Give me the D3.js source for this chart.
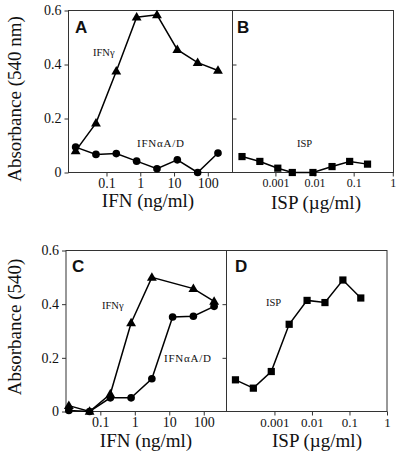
<!DOCTYPE html>
<html><head><meta charset="utf-8">
<script src="https://cdn.jsdelivr.net/npm/d3@7"></script>
<style>
html,body{margin:0;padding:0;background:#fff;}
svg{display:block;}
</style></head>
<body>
<script>
// ---- data ----
const ifnConc = [0.0122, 0.0488, 0.195, 0.781, 3.125, 12.5, 50, 200];
const aGamma = [0.08, 0.183, 0.375, 0.575, 0.584, 0.455, 0.407, 0.378];
const aAlpha = [0.094, 0.067, 0.07, 0.042, 0.014, 0.047, 0.0, 0.072];
const bConc = [0.00014, 0.0004, 0.00115, 0.0027, 0.0091, 0.028, 0.079, 0.226];
const bIsp = [0.059, 0.041, 0.016, 0.0, 0.0, 0.022, 0.041, 0.031];
const cGammaConc = [0.0122, 0.0488, 0.195, 0.781, 3.125, 50, 200];
const cGamma = [0.022, 0.0, 0.065, 0.33, 0.50, 0.458, 0.41];
const cAlpha = [0.004, 0.0, 0.051, 0.051, 0.122, 0.352, 0.355, 0.392];
const dConc = [0.0000914, 0.000274, 0.000823, 0.00247, 0.00741, 0.0222, 0.0667, 0.2];
const dIsp = [0.118, 0.087, 0.149, 0.325, 0.414, 0.406, 0.49, 0.423];
const yTicks = [0, 0.2, 0.4, 0.6];
const ifnTicks = [0.1, 1, 10, 100];
const ifnTickLabels = ["0.1", "1", "10", "100"];
const ispTicks = [0.001, 0.01, 0.1, 1];
const ispTickLabels = ["0.001", "0.01", "0.1", "1"];

const SERIF = "'Liberation Serif', 'Times New Roman', Times, serif";
const SANS = "'Liberation Sans', Arial, Helvetica, sans-serif";
const W = 400, H = 457;
const svg = d3.select("body").append("svg").attr("width", W).attr("height", H);

function panel(o) {
  const x = d3.scaleLog().domain(o.xdom).range([o.x0, o.x1]);
  const y = d3.scaleLinear().domain([0, 0.6]).range([o.y1, o.y0]);
  const g = svg.append("g");
  g.append("rect").attr("x", o.x0).attr("y", o.y0).attr("width", o.x1 - o.x0).attr("height", o.y1 - o.y0)
    .attr("fill", "none").attr("stroke", "#333").attr("stroke-width", 1);
  const xa = g.append("g").attr("transform", `translate(0,${o.y1})`)
    .call(d3.axisBottom(x).tickValues(o.xticks).tickFormat((d, i) => o.xlabels[i]).tickSize(4).tickPadding(2));
  xa.select(".domain").remove();
  xa.attr("font-family", null).attr("font-size", null);
  xa.selectAll("line").attr("stroke", "#333");
  xa.selectAll("text").style("font-family", SERIF).style("font-size", o.tickFs + "px").attr("fill", "#111");
  if (o.yLabels) {
    const ya = g.append("g").attr("transform", `translate(${o.x0},0)`)
      .call(d3.axisLeft(y).tickValues(yTicks).tickFormat(d => d === 0 ? "0" : d3.format(".1f")(d)).tickSize(4).tickPadding(3));
    ya.select(".domain").remove();
    ya.attr("font-family", null).attr("font-size", null);
    ya.selectAll("line").attr("stroke", "#333");
    ya.selectAll("text").style("font-family", SERIF).style("font-size", "14px").attr("fill", "#111");
  } else {
    const ya = g.append("g").attr("transform", `translate(${o.x0},0)`)
      .call((o.yInward ? d3.axisRight(y) : d3.axisLeft(y)).tickValues([0.2, 0.4]).tickFormat("").tickSize(4));
    ya.select(".domain").remove();
    ya.selectAll("line").attr("stroke", "#333");
  }
  const line = d3.line().x(d => x(d[0])).y(d => y(d[1]));
  o.series.forEach(s => {
    const pts = s.c.map((c, i) => [c, s.v[i]]);
    g.append("path").datum(pts).attr("d", line).attr("fill", "none").attr("stroke", "#000").attr("stroke-width", 1.5);
  });
  o.series.forEach(s => {
    const pts = s.c.map((c, i) => [c, s.v[i]]);
    const sym = s.m === "tri" ? d3.symbolTriangle : s.m === "sq" ? d3.symbolSquare : d3.symbolCircle;
    const size = s.m === "tri" ? 42 : s.m === "sq" ? 52 : 46;
    g.selectAll(null).data(pts).enter().append("path")
      .attr("d", d3.symbol().type(sym).size(size))
      .attr("transform", d => `translate(${x(d[0])},${y(d[1]) + (s.m === "tri" ? 0.5 : 0)})`)
      .attr("fill", "#000");
  });
  g.append("text").attr("x", o.lab[1]).attr("y", o.lab[2])
    .style("font-family", SANS).style("font-weight", "bold").style("font-size", "17px").attr("fill", "#111").text(o.lab[0]);
  o.notes.forEach(n => {
    const t = g.append("text").attr("x", n[1]).attr("y", n[2])
      .style("font-family", SERIF).style("font-size", n[3] ? "11px" : "10.5px").attr("fill", "#111").text(n[0]);
    if (n[3]) t.attr("textLength", n[3]).attr("lengthAdjust", "spacing");
  });
  g.append("text").attr("x", o.xt[1]).attr("y", o.xt[2]).attr("text-anchor", "middle")
    .style("font-family", SERIF).style("font-size", "19px").attr("fill", "#111").text(o.xt[0]);
  if (o.yt) {
    g.append("text").attr("transform", `translate(${o.yt[1]},${o.yt[2]}) rotate(-90)`).attr("text-anchor", "middle")
      .style("font-family", SERIF).style("font-size", "19px").attr("fill", "#111").text(o.yt[0]);
  }
}

panel({
  x0: 68.5, x1: 232.5, y0: 10.5, y1: 172.5, xdom: [Math.pow(10, -2.125), Math.pow(10, 2.731)],
  xticks: ifnTicks, xlabels: ifnTickLabels, tickFs: 14, yLabels: true,
  series: [{ c: ifnConc, v: aGamma, m: "tri" }, { c: ifnConc, v: aAlpha, m: "circ" }],
  lab: ["A", 75, 33], notes: [["IFNγ", 93, 56], ["IFNαA/D", 137, 147, 47]],
  xt: ["IFN (ng/ml)", 148, 207], yt: ["Absorbance (540 nm)", 21, 99]
});
panel({
  x0: 232.5, x1: 393.5, y0: 10.5, y1: 172.5, xdom: [Math.pow(10, -4.097), Math.pow(10, 0.018)],
  xticks: ispTicks, xlabels: ispTickLabels, tickFs: 12, yLabels: false, yInward: true,
  series: [{ c: bConc, v: bIsp, m: "sq" }],
  lab: ["B", 237, 33], notes: [["ISP", 297, 147]],
  xt: ["ISP (µg/ml)", 316, 209]
});
panel({
  x0: 66, x1: 226.5, y0: 250.5, y1: 411.5, xdom: [Math.pow(10, -1.996), Math.pow(10, 2.66)],
  xticks: ifnTicks, xlabels: ifnTickLabels, tickFs: 14, yLabels: true,
  series: [{ c: cGammaConc, v: cGamma, m: "tri" }, { c: ifnConc, v: cAlpha, m: "circ" }],
  lab: ["C", 72, 272], notes: [["IFNγ", 102, 309], ["IFNαA/D", 164, 362, 47]],
  xt: ["IFN (ng/ml)", 146, 447], yt: ["Absorbance (540)", 21, 327]
});
panel({
  x0: 226.5, x1: 387, y0: 250.5, y1: 411.5, xdom: [Math.pow(10, -4.278), 1],
  xticks: ispTicks, xlabels: ispTickLabels, tickFs: 13, yLabels: false, yInward: false,
  series: [{ c: dConc, v: dIsp, m: "sq" }],
  lab: ["D", 235, 272], notes: [["ISP", 266, 306]],
  xt: ["ISP (µg/ml)", 317, 447]
});
</script>
</body></html>
